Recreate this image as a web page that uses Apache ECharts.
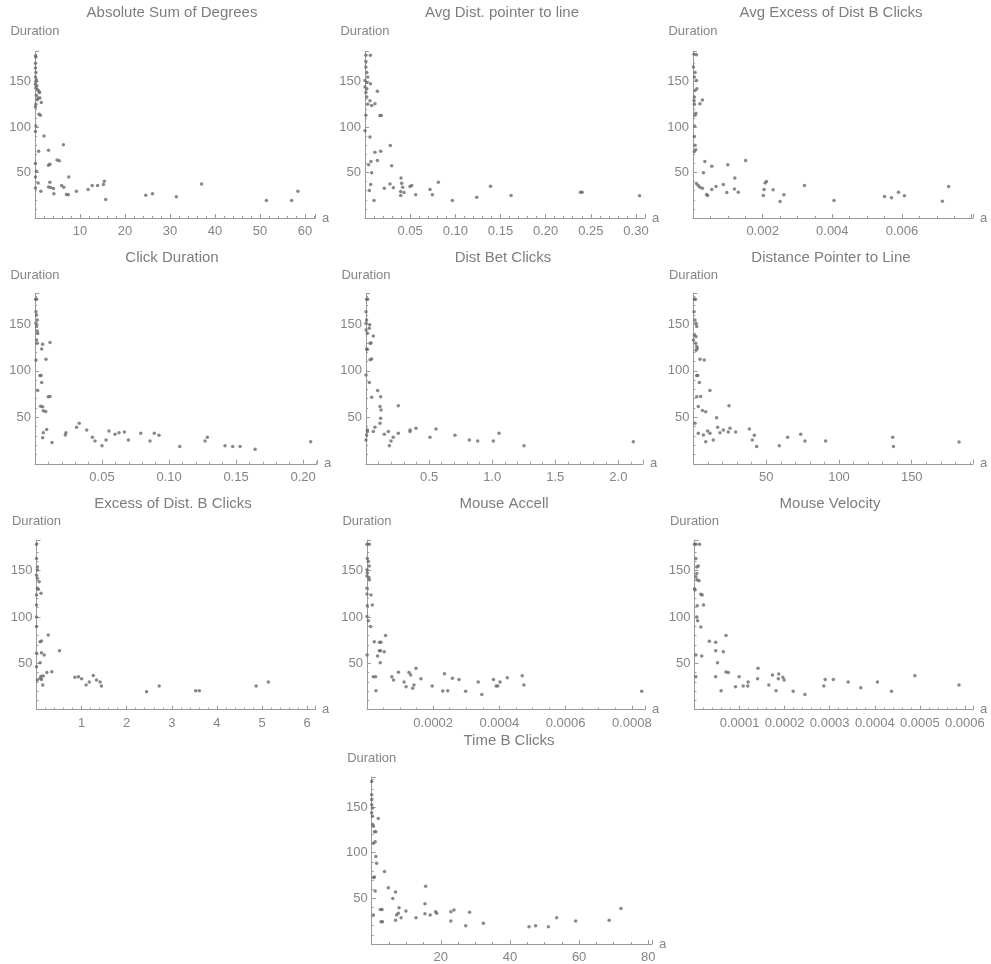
<!DOCTYPE html>
<html>
<head>
<meta charset="utf-8">
<script src="https://cdn.jsdelivr.net/npm/echarts@6/dist/echarts.min.js"></script>
<style>
html,body{margin:0;padding:0;background:#fff}
#main{width:991px;height:964px}
</style>
</head>
<body>
<div id="main"></div>
<script>
// [a, Duration] pairs
var absSumDegrees = [[0.1,178],[0.2,177],[0.1,170],[0.1,165],[0.2,160],[0.1,155],[0.3,152],[0.2,150],[0.1,147],[0.4,145],[0.2,143],[0.6,141],[0.9,139],[1.0,138],[0.3,135],[0.7,132],[1.1,132],[0.5,130],[1.4,127],[0.2,125],[0.1,122],[0.9,114],[1.2,113],[0.2,101],[0.1,95],[2.0,90],[0.8,73.5],[3.0,74.5],[6.3,80.6],[3.0,58],[3.3,59],[4.9,63.8],[5.4,63],[0.1,60],[0.3,51.5],[0.1,45],[0.7,38.6],[0.1,33],[1.3,29.5],[3.3,39.4],[3.0,34],[3.5,33.4],[4.1,32.5],[4.2,26.6],[5.9,35.7],[6.4,33.9],[7.0,25.8],[7.4,25.5],[7.5,45.2],[9.2,29.5],[11.8,31.3],[12.7,35.7],[13.9,35.7],[15.2,36.8],[15.4,40.5],[15.7,20.3],[24.6,25],[26.1,26.6],[31.4,23.3],[37,37.5],[51.4,19.2],[57,19.2],[58.4,29.5]]

var avgDistPointerLine = [[0.001,179],[0.006,179],[0.001,172],[0.001,166],[0.002,160],[0.003,155],[0.0,151],[0.002,149],[0.006,147.5],[0.0,144],[0.002,142],[0.001,138],[0.002,133],[0.003,125],[0.0055,129],[0.0074,123.6],[0.011,125.5],[0.0137,139.4],[0.0165,112.6],[0.018,112.6],[0.001,113],[0.0,96],[0.0055,89],[0.011,72.3],[0.0174,73.4],[0.028,79.7],[0.0137,63.2],[0.0066,62],[0.004,58.4],[0.0295,57.3],[0.0074,49.6],[0.0063,36.8],[0.0048,30.2],[0.01,19.2],[0.0214,32.8],[0.0277,37.5],[0.0314,33.2],[0.0399,44.1],[0.0406,38.3],[0.0395,29.1],[0.0395,24.7],[0.0417,33.9],[0.0432,28],[0.0498,34.6],[0.0517,35.7],[0.0561,25.5],[0.072,31.3],[0.0746,25.5],[0.0812,39.4],[0.0967,19.2],[0.1237,22.9],[0.139,35],[0.1617,24.7],[0.2385,28.4],[0.2405,28.4],[0.304,24.4]]

var avgExcessDistB = [[0.00003,180],[0.0001,179.5],[0.00001,166],[0.00006,160],[0.00004,155],[0.0001,151],[0.00011,142],[0.00006,140],[0.00004,133],[0.00003,129],[0.00004,125],[0.00008,115],[0.00006,113],[0.00005,101],[0.00004,89.6],[0.00006,80],[0.00008,75],[0.00004,73],[0.0002,125.5],[0.00027,129.8],[0.0001,38],[0.00015,35.7],[0.0002,33.9],[0.00027,32.8],[0.00034,62],[0.0003,49.6],[0.00039,25.8],[0.00042,24.7],[0.00054,57],[0.00054,31.3],[0.00066,34.6],[0.00087,36.8],[0.00097,28],[0.001,58.4],[0.0012,44.1],[0.00119,32],[0.0013,28.4],[0.00151,63.2],[0.00202,24.7],[0.00204,31.3],[0.00207,38.6],[0.00211,40.1],[0.0023,31],[0.0025,18.1],[0.00261,25.5],[0.0032,35.7],[0.00405,19.2],[0.0055,23.6],[0.0057,22.2],[0.0059,28.4],[0.00607,24.4],[0.00716,18.5],[0.00734,34.6]]

var clickDuration = [[0.0012,177],[0.0005,177],[0.0007,163.6],[0.0012,160],[0.0017,154.7],[0.0007,151],[0.0012,147.5],[0.0017,142.8],[0.002,140],[0.0012,133],[0.0017,129.6],[0.0007,111.6],[0.0057,128.5],[0.005,123.5],[0.0112,130.3],[0.0082,112.4],[0.0037,95],[0.0045,95],[0.005,87.3],[0.002,78.7],[0.0099,72],[0.0112,72.4],[0.0042,61.8],[0.0057,61.3],[0.0062,57],[0.008,56.3],[0.0087,37],[0.0062,33.5],[0.0057,28.1],[0.0127,22.8],[0.0226,31],[0.0231,33.5],[0.031,39.2],[0.033,43.5],[0.0386,36.4],[0.0428,28.5],[0.0448,24.6],[0.05,19.5],[0.053,25.6],[0.0552,35.3],[0.0597,31.7],[0.0627,33.5],[0.0667,34.2],[0.0697,25.6],[0.0789,32.8],[0.0858,24.6],[0.089,32.8],[0.0925,30.6],[0.108,18.5],[0.1269,24.6],[0.1286,28.5],[0.1418,19.5],[0.1475,18.5],[0.153,18.5],[0.1642,15.6],[0.2057,23.8]]

var distBetClicks = [[0.005,177],[0.013,177],[0.0,163.6],[0.005,154.7],[0.03,149.4],[0.026,145.8],[0.0,151],[0.0,143.9],[0.011,140.5],[0.058,137.5],[0.032,129.6],[0.04,130],[0.005,123.5],[0.011,123],[0.032,112],[0.045,112.6],[0.0,95.5],[0.026,87.3],[0.045,71.5],[0.092,78.7],[0.116,72.2],[0.111,61.5],[0.119,57.9],[0.116,49],[0.111,43.5],[0.256,62.5],[0.0,25.6],[0.005,31],[0.011,34.6],[0.011,36.4],[0.058,34.6],[0.071,39.2],[0.145,31.7],[0.177,34.6],[0.185,19.5],[0.198,24.6],[0.216,28.5],[0.256,32.8],[0.349,34.6],[0.349,36.4],[0.396,38.2],[0.507,28.5],[0.555,37.5],[0.705,30.6],[0.819,25.6],[0.885,24.6],[1.009,24.6],[1.054,32.8],[1.252,19.5],[2.118,23.8]]

var distPointerLine = [[0.6,177],[1.3,177],[0.4,163.6],[1.0,154.7],[1.7,151],[2.2,147.5],[0.6,138.6],[1.7,137],[0,133],[1.5,129.6],[2.2,126],[2.6,124],[1.7,122],[2.2,95],[2.9,95],[4.5,112.4],[7.4,111.6],[4,87.3],[2.2,72],[4.9,72.4],[3.3,61.5],[6.1,57.2],[8.4,56],[1,43.5],[3.3,32.8],[6.8,31],[8.4,23.8],[9.7,35.3],[11.3,32.8],[11.3,78.7],[13.6,25.6],[15.9,49.6],[16.6,39.2],[18.2,33.5],[20.5,36.4],[23.9,34.2],[24.4,62.5],[25.1,38.2],[29,34.2],[38.4,37.5],[40.4,25.6],[41.8,30.6],[43.4,18.5],[59,19.5],[64.7,28.5],[73.7,31.7],[76.6,24.6],[90.8,24.6],[136.9,28.5],[137.4,18.5],[182.5,23.5]]

var excessDistB = [[0.0,178.4],[0.0,163],[0.02,154],[0.02,150.7],[0.0,145],[0.02,141.7],[0.06,138],[0.02,131],[0.04,130],[0.0,123.7],[0.1,125.5],[0.0,113],[0.0,100],[0.0,89.6],[0.08,73.4],[0.11,74],[0.0,60.8],[0.11,61.5],[0.08,50.7],[0.0,46.4],[0.08,34],[0.11,32.5],[0.02,32],[0.15,36.3],[0.14,26.6],[0.1,36],[0.26,80.6],[0.17,59],[0.23,40],[0.34,41],[0.51,63.7],[0.85,34.9],[0.93,35.6],[1.0,33.5],[1.1,26.6],[1.17,29.9],[1.26,37],[1.33,32],[1.41,29.9],[1.44,25.5],[2.44,19.4],[2.72,25.5],[3.53,20.5],[3.61,20.5],[4.87,25.5],[5.14,29.9]]

var mouseAccell = [[0.0,178.4],[0.000007,178.4],[0.000001,163],[0.000004,159.7],[0.000007,155],[0.0,151],[0.000001,147.8],[0.0,144.2],[0.000006,142.5],[0.000007,140],[0.0,131],[0.0,124.8],[0.000012,123.7],[0.000001,112],[0.000016,113],[0.0,100.4],[0.000004,96],[0.000011,89.6],[0.0,59],[0.000022,73.4],[0.000038,72.7],[0.000042,72.7],[0.000032,58],[0.000037,63.7],[0.000041,63.7],[0.00004,50.7],[0.000052,62.6],[0.000056,80],[0.000019,35.6],[0.000026,35.6],[0.000027,20.5],[0.000075,35.6],[0.00008,32],[0.000095,40.3],[0.000112,29.9],[0.000118,24.8],[0.000127,40],[0.000132,37.4],[0.000138,23],[0.000142,26.6],[0.000148,44.6],[0.000163,33.5],[0.000197,25.5],[0.000229,20.1],[0.000234,38.8],[0.000244,20.5],[0.000258,33.8],[0.000278,32.7],[0.000298,19.8],[0.000336,29.9],[0.000347,16.5],[0.000382,32.7],[0.00039,25.5],[0.000395,25.5],[0.000402,29.9],[0.000424,34.5],[0.000469,36.7],[0.000474,26.6],[0.00083,19.8]]

var mouseVelocity = [[0.0,178.4],[0.000003,178.4],[0.000011,178.4],[0.000003,163],[0.000005,154],[0.0000085,155],[0.000005,147],[0.000003,143.5],[0.000006,140],[0.00001,139],[0.0,130.5],[0.000001,129],[0.000014,124.5],[0.000017,123.7],[0.000006,112],[0.00002,113],[0.000005,100],[0.000007,96],[0.000014,89.3],[0.000003,59],[0.000016,58],[0.000003,35.6],[0.000033,73.7],[0.000047,72.7],[0.000047,63.7],[0.000051,50.7],[0.000047,35.6],[0.000059,20.5],[0.000064,62.6],[0.00007,80],[0.00007,40.6],[0.000075,40],[0.000091,24.8],[0.000099,35.6],[0.000108,25.5],[0.000118,25.5],[0.000119,29.9],[0.00014,33.5],[0.000141,44.6],[0.000165,26.6],[0.000173,37.4],[0.000181,20.5],[0.000186,33.5],[0.000187,38.5],[0.000196,35],[0.000199,32],[0.000219,19.8],[0.000245,16.5],[0.000287,25.5],[0.00029,32.7],[0.000308,32.7],[0.000341,29.9],[0.000369,23.7],[0.000406,29.9],[0.000437,19.8],[0.000489,36.7],[0.000587,26.6]]

var timeBClicks = [[0.0,178],[0.0,163.5],[0.0,158],[0.0,152.7],[0.2,149],[0.0,143.7],[0.2,140],[0.3,131],[0.5,129],[0.8,123],[1.2,123],[0.5,110.5],[1.0,112],[1.2,96],[1.4,88.4],[0.5,73],[0.8,73.5],[1.0,58],[0.5,31.8],[1.9,137.5],[3.7,79.4],[4.8,61.7],[6.1,49.8],[6.9,57],[2.5,37.9],[3.0,37.9],[2.7,24.5],[3.1,24.5],[6.9,26],[7.2,31.8],[7.7,33.6],[7.9,39.7],[8.5,28.9],[9.9,36.1],[12.8,28.9],[15.6,63.2],[15.4,44],[15.4,33.2],[16.9,31.8],[18.5,35.4],[18.8,33.6],[22.9,35.4],[22.9,25.3],[23.8,37.2],[27.2,19.9],[28.3,34.7],[32.3,22.7],[45.5,18.8],[47.4,19.9],[51.1,18.8],[53.5,28.9],[59,25.3],[68.7,26],[72.1,39]]

var titles = ['Absolute Sum of Degrees','Avg Dist. pointer to line','Avg Excess of Dist B Clicks','Click Duration','Dist Bet Clicks','Distance Pointer to Line','Excess of Dist. B Clicks','Mouse Accell','Mouse Velocity','Time B Clicks']
var seriesData = [absSumDegrees, avgDistPointerLine, avgExcessDistB, clickDuration, distBetClicks, distPointerLine, excessDistB, mouseAccell, mouseVelocity, timeBClicks]
var xMax = [62.2, 0.31, 0.00804, 0.2104, 2.195, 192.1, 6.175, 0.00084, 0.000618, 81.08]
var xStep = [10, 0.05, 0.002, 0.05, 0.5, 50, 1, 0.0002, 0.0001, 20]
var xLastLabel = [60, 0.30, 0.006, 0.20, 2.0, 150, 6, 0.0008, 0.0006, 80]
var xDecimals = [0, 2, 3, 2, 1, 0, 0, 4, 4, 0]
var xMinorSplit = [5, 5, 4, 5, 5, 5, 5, 4, 5, 4]
var yTicks = [50, 100, 150]
var yMax = 183

// layout of each panel (pixels)
var panelLeft = [35, 365, 693, 35, 366, 693.5, 36.5, 367, 694.5, 371.7]
var panelWidth = [280, 280, 280, 282, 277, 279.5, 278.5, 278, 278.5, 280.3]
var panelRow = [0, 0, 0, 1, 1, 1, 2, 2, 2, 3]
var titleX = [172, 502, 831, 172, 503, 831, 173, 504, 830, 509]
var rowTop = [51.5, 293.6, 540, 777]
var rowHeight = [166.5, 170.2, 169.7, 169]
var rowTitleTop = [5, 250, 496, 733]
var rowNameGap = [14, 12, 12, 12]

var textColor = '#858585'
var axisColor = '#9a9a9a'
var font = 'Liberation Sans, Arial, sans-serif'

var grid = [], xAxis = [], yAxis = [], series = [], title = []

titles.forEach(function (name, i) {
	var r = panelRow[i]
	grid.push({left: panelLeft[i], top: rowTop[r], width: panelWidth[i], height: rowHeight[r]})
	title.push({
		text: name, left: titleX[i], top: rowTitleTop[r], textAlign: 'center', padding: 0,
		textStyle: {color: '#7d7d7d', fontSize: 15, fontWeight: 'normal', fontFamily: font}
	})
	xAxis.push({
		type: 'value', gridIndex: i, min: 0, max: xMax[i], interval: xStep[i],
		name: 'a', nameLocation: 'end', nameGap: 7,
		nameTextStyle: {color: textColor, fontSize: 13, fontFamily: font},
		splitLine: {show: false},
		axisLine: {onZero: false, lineStyle: {color: axisColor, width: 1}},
		axisTick: {inside: true, length: 4, lineStyle: {color: axisColor}},
		minorTick: {show: true, splitNumber: xMinorSplit[i], length: 2, lineStyle: {color: axisColor}},
		axisLabel: {
			color: textColor, fontSize: 13, fontFamily: font, margin: 7,
			formatter: function (v) {
				var k = v / xStep[i]
				if (v <= 0 || v > xLastLabel[i] * 1.001 || Math.abs(k - Math.round(k)) > 1e-6) return ''
				return v.toFixed(xDecimals[i])
			}
		}
	})
	yAxis.push({
		type: 'value', gridIndex: i, min: 0, max: yMax, interval: 50,
		name: 'Duration', nameLocation: 'end', nameGap: rowNameGap[r],
		nameTextStyle: {color: textColor, fontSize: 13, fontFamily: font},
		splitLine: {show: false},
		axisLine: {onZero: false, lineStyle: {color: axisColor, width: 1}},
		axisTick: {inside: true, length: 4, lineStyle: {color: axisColor}},
		minorTick: {show: true, splitNumber: 5, length: 2, lineStyle: {color: axisColor}},
		axisLabel: {
			color: textColor, fontSize: 13, fontFamily: font, margin: 4,
			formatter: function (v) { return yTicks.indexOf(v) >= 0 ? String(v) : '' }
		}
	})
	series.push({
		type: 'scatter', xAxisIndex: i, yAxisIndex: i, data: seriesData[i],
		symbol: 'circle', symbolSize: 3.5, clip: false,
		itemStyle: {color: '#6a6a6a'}
	})
})

var myChart = echarts.init(document.getElementById('main'), null, {renderer: 'canvas'})
myChart.setOption({
	animation: false,
	backgroundColor: '#fff',
	title: title,
	grid: grid,
	xAxis: xAxis,
	yAxis: yAxis,
	series: series
})
</script>
</body>
</html>
